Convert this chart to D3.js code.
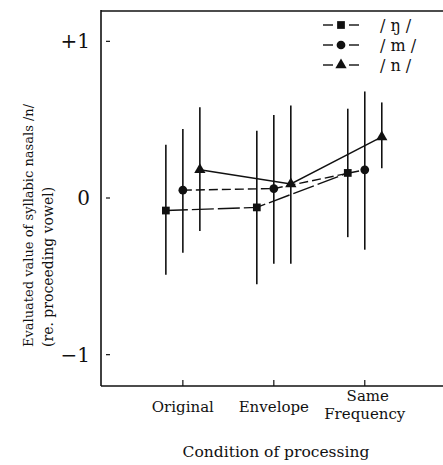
<!DOCTYPE html>
<html>
<head>
<meta charset="utf-8">
<script src="https://cdn.jsdelivr.net/npm/d3@7"></script>
<style>
  body { margin: 0; background: white; }
  text { font-family: "DejaVu Serif", "Liberation Serif", serif; fill: #111; }
</style>
</head>
<body>
<svg id="chart"></svg>
<script>
// categories and series
var conditions = ["Original", "Envelope", "Same|Frequency"]
var seriesNames = ["ŋ", "m", "n"]
var yTicks = [1, 0, -1]
var yTickLabels = ["+1", "0", "\u22121"]

// means and error bar ends, one per condition
var ngMean = [-0.08, -0.06, 0.16]
var ngLow = [-0.49, -0.55, -0.25]
var ngHigh = [0.34, 0.43, 0.57]

var mMean = [0.05, 0.06, 0.18]
var mLow = [-0.35, -0.42, -0.33]
var mHigh = [0.44, 0.53, 0.68]

var nMean = [0.18, 0.09, 0.39]
var nLow = [-0.21, -0.42, 0.19]
var nHigh = [0.58, 0.59, 0.61]

var dims = {
    width: 443,
    height: 465,
    margin: { top: 10, bottom: 79, left: 101, right: 0 }
}

var svg = d3.select("#chart")
            .attr("width", dims.width)
            .attr("height", dims.height)

var xScale = d3.scaleLinear()
               .domain([-0.9, 2.86])
               .range([dims.margin.left, dims.width - dims.margin.right])

var yScale = d3.scaleLinear()
               .domain([-1.2, 1.2])
               .range([dims.height - dims.margin.bottom, dims.margin.top])

var series = [
    { name: seriesNames[0], mean: ngMean, low: ngLow, high: ngHigh, shape: d3.symbolSquare, size: 60, dx: -17, dash: "22,4" },
    { name: seriesNames[1], mean: mMean, low: mLow, high: mHigh, shape: d3.symbolCircle, size: 60, dx: 0, dash: "9,4" },
    { name: seriesNames[2], mean: nMean, low: nLow, high: nHigh, shape: d3.symbolTriangle, size: 55, dx: 17, dash: null }
]

// frame: left, top, bottom
svg.append("line")
   .attr("x1", xScale.range()[0]).attr("x2", xScale.range()[0])
   .attr("y1", yScale.range()[1]).attr("y2", yScale.range()[0])
   .attr("stroke", "#111").attr("stroke-width", 1.6)
svg.append("line")
   .attr("x1", xScale.range()[0]).attr("x2", xScale.range()[1])
   .attr("y1", yScale.range()[1] + 1).attr("y2", yScale.range()[1] + 1)
   .attr("stroke", "#111").attr("stroke-width", 1.3)
svg.append("line")
   .attr("x1", xScale.range()[0]).attr("x2", xScale.range()[1])
   .attr("y1", yScale.range()[0]).attr("y2", yScale.range()[0])
   .attr("stroke", "#111").attr("stroke-width", 1.3)

// y ticks (short marks inside the frame)
svg.append("g")
   .selectAll("line")
   .data(yTicks)
   .enter()
   .append("line")
   .attr("x1", xScale.range()[0] + 5)
   .attr("x2", xScale.range()[0] + 9)
   .attr("y1", d => yScale(d))
   .attr("y2", d => yScale(d))
   .attr("stroke", "#111")
   .attr("stroke-width", 1.2)

svg.append("g")
   .selectAll("text")
   .data(yTicks)
   .enter()
   .append("text")
   .attr("x", xScale.range()[0] - 11)
   .attr("y", d => yScale(d) + 7)
   .attr("text-anchor", "end")
   .attr("font-size", "20px")
   .text((d, i) => yTickLabels[i])

// x ticks
svg.append("g")
   .selectAll("line")
   .data(conditions)
   .enter()
   .append("line")
   .attr("x1", (d, i) => xScale(i))
   .attr("x2", (d, i) => xScale(i))
   .attr("y1", yScale.range()[0])
   .attr("y2", yScale.range()[0] - 6)
   .attr("stroke", "#111")
   .attr("stroke-width", 1.2)

var xLabels = svg.append("g")
                 .selectAll("text")
                 .data(conditions)
                 .enter()
                 .append("text")
                 .attr("text-anchor", "middle")
                 .attr("font-size", "15px")
                 .attr("x", (d, i) => xScale(i))
                 .attr("y", d => d.indexOf("|") >= 0 ? 401 : 412)

xLabels.each(function(d, i) {
    var parts = d.split("|")
    var t = d3.select(this)
    parts.forEach(function(p, j) {
        t.append("tspan")
         .attr("x", xScale(i) + (j == 0 && parts.length > 1 ? 3 : 0))
         .attr("dy", j == 0 ? 0 : 18)
         .text(p)
    })
})

svg.append("text")
   .attr("x", 276)
   .attr("y", 457)
   .attr("text-anchor", "middle")
   .attr("font-size", "15.5px")
   .text("Condition of processing")

// y axis title, two lines, both starting at the same height
svg.append("text")
   .attr("transform", "rotate(-90)")
   .attr("x", -347)
   .attr("y", 33)
   .attr("text-anchor", "start")
   .attr("font-size", "13px")
   .text("Evaluated value of syllabic nasals /n/")

svg.append("text")
   .attr("transform", "rotate(-90)")
   .attr("x", -347)
   .attr("y", 53)
   .attr("text-anchor", "start")
   .attr("font-size", "14px")
   .text("(re. proceeding vowel)")

// error bars
series.forEach(function(s) {
    svg.append("g")
       .selectAll("line")
       .data(s.mean)
       .enter()
       .append("line")
       .attr("x1", (d, i) => xScale(i) + s.dx)
       .attr("x2", (d, i) => xScale(i) + s.dx)
       .attr("y1", (d, i) => yScale(s.low[i]))
       .attr("y2", (d, i) => yScale(s.high[i]))
       .attr("stroke", "#111")
       .attr("stroke-width", 1.6)
})

// connecting lines
var lineGen = d3.line()
series.forEach(function(s) {
    svg.append("path")
       .datum(s.mean.map((d, i) => [xScale(i) + s.dx, yScale(d)]))
       .attr("d", lineGen)
       .attr("fill", "none")
       .attr("stroke", "#111")
       .attr("stroke-width", 1.4)
       .attr("stroke-dasharray", s.dash)
})

// markers
series.forEach(function(s) {
    svg.append("g")
       .selectAll("path")
       .data(s.mean)
       .enter()
       .append("path")
       .attr("d", d3.symbol().type(s.shape).size(s.size))
       .attr("transform", (d, i) => `translate(${xScale(i) + s.dx},${yScale(d)})`)
       .attr("fill", "#111")
})

// legend
var legend = svg.append("g")
                .selectAll("g")
                .data(series)
                .enter()
                .append("g")
                .attr("transform", (d, i) => `translate(341,${25 + i * 20})`)

legend.append("line")
      .attr("x1", -18).attr("x2", -8).attr("y1", 0).attr("y2", 0)
      .attr("stroke", "#111").attr("stroke-width", 1.4)
legend.append("line")
      .attr("x1", 8).attr("x2", 18).attr("y1", 0).attr("y2", 0)
      .attr("stroke", "#111").attr("stroke-width", 1.4)
legend.append("path")
      .attr("d", d => d3.symbol().type(d.shape).size(d.size)())
      .attr("fill", "#111")
legend.append("text")
      .attr("x", 39)
      .attr("y", 6)
      .attr("font-size", "16px")
      .text(d => "/ " + d.name + " /")
</script>
</body>
</html>
